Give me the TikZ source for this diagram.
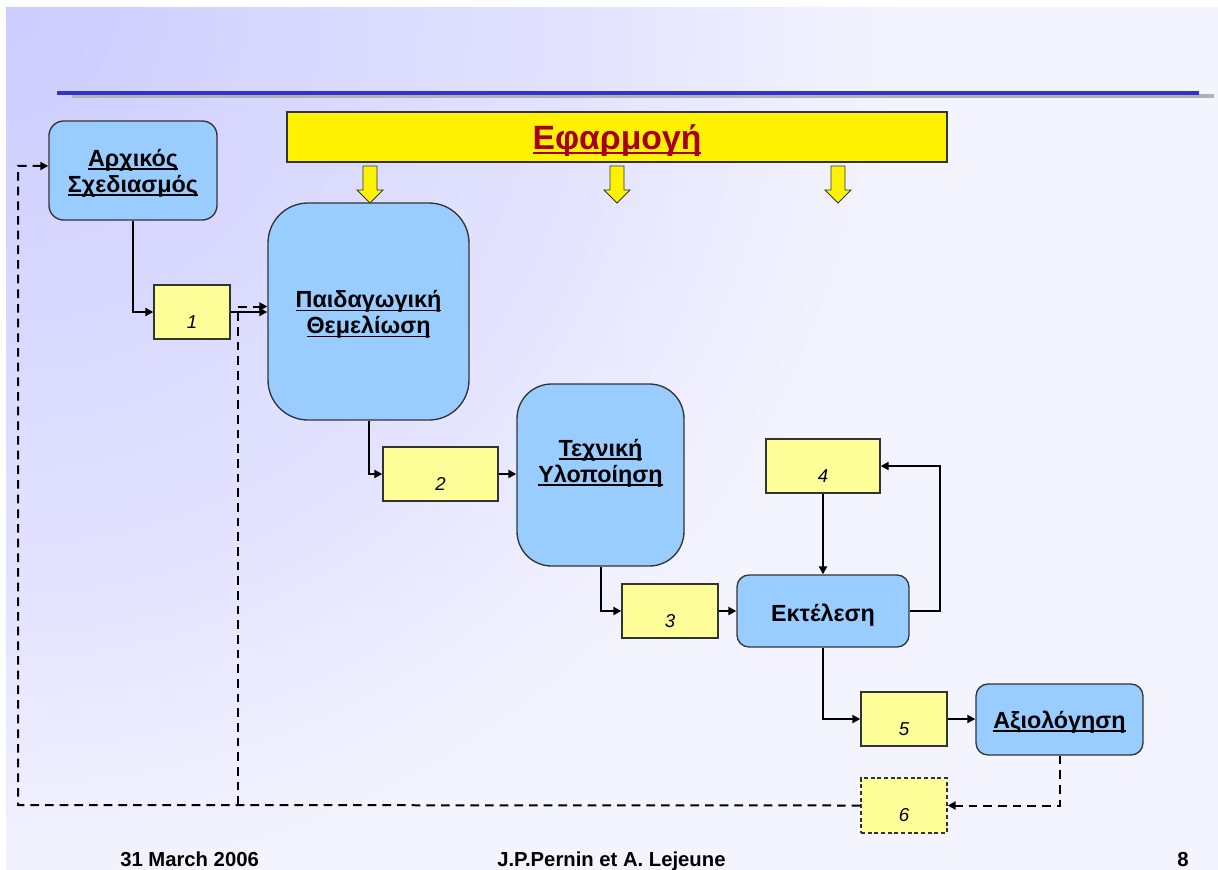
\documentclass[tikz,border=0pt]{standalone}
\usepackage{fontspec}
\setmainfont{Liberation Sans}
\usetikzlibrary{arrows.meta}
\definecolor{bgA}{HTML}{CCCCFF}
\definecolor{bgB}{HTML}{E4E4FF}
\definecolor{bgC}{HTML}{F4F4FE}
\definecolor{boxblue}{HTML}{99CCFF}
\definecolor{boxyellow}{HTML}{FFFF99}
\definecolor{bordergray}{HTML}{333333}
\definecolor{titlered}{HTML}{A50021}
\definecolor{linesblue}{HTML}{3333CC}
\definecolor{shadowgray}{HTML}{B2B2B2}
\pgfdeclareradialshading{bgshade}{\pgfpoint{0bp}{0bp}}{color(0bp)=(bgA); color(9.4bp)=(bgB); color(14bp)=(bgC); color(50bp)=(bgC)}
\newcommand\ulx[1]{\setbox0\hbox{#1}\rlap{\rule[-0.15em]{\wd0}{0.08em}}\box0}
\begin{document}
\begin{tikzpicture}[x=0.75pt,y=-0.75pt,
  sz/.style 2 args={minimum width=#1*0.75pt, minimum height=#2*0.75pt},
  bluebox/.style={draw=bordergray, line width=1pt, fill=boxblue, inner sep=0pt},
  btext/.style={align=center, inner sep=0pt, font=\fontsize{17.5}{19.5}\selectfont\bfseries},
  yelbox/.style={draw=bordergray, line width=1pt, fill=boxyellow, inner sep=0pt},
  numlbl/.style={font=\fontsize{14}{16}\selectfont\itshape, inner sep=0pt},
  conn/.style={line width=1.5pt, -{Triangle[length=6pt,width=6pt]}},
  dconn/.style={line width=1.5pt, dash pattern=on 6.5pt off 4.5pt, -{Triangle[length=6pt,width=6pt]}},
  foot/.style={font=\fontsize{15.2}{17}\selectfont\bfseries, inner sep=0pt, anchor=base west},
  yarrow/.style={draw=bordergray, line width=0.6pt, fill=yellow}
]
\useasboundingbox (0,0) rectangle (1218,869);
\fill[white] (0,0) rectangle (1218,869);
\begin{scope}
  \clip (6,7) rectangle (1218,869);
  \fill[bgC] (6,7) rectangle (1218,869);
  \fill[shading=bgshade] (6,7) circle (1600);
\end{scope}
% header line
\draw[shadowgray, line width=2.4pt] (72,96) -- (1214,96);
\draw[linesblue, line width=2.4pt] (57,93) -- (1199,93);

% title bar
\node[draw=bordergray, line width=0.8pt, fill=yellow, sz={660}{50}, inner sep=0pt,
  label={[inner sep=0pt, yshift=-2.5pt, font=\fontsize{25.3}{28}\selectfont\bfseries, text=titlered]center:\ulx{Εφαρμογή}}] (bar) at (617,137) {};
% yellow arrows
\foreach \ax in {370,617,838}{
  \draw[yarrow] (\ax-7,166) -- (\ax+7,166) -- (\ax+7,190) -- (\ax+13,190) -- (\ax,203)
     -- (\ax-13,190) -- (\ax-7,190) -- cycle;
}

% blue boxes
\node[bluebox, sz={168}{99}, rounded corners=11pt,
  label={[btext, yshift=-2.2pt]center:{\ulx{Αρχικός}\\\ulx{Σχεδιασμός}}}] (arch) at (133,170.5) {};
\node[bluebox, sz={201}{217}, rounded corners=30pt,
  label={[btext, yshift=-2.4pt]center:{\ulx{Παιδαγωγική}\\\ulx{Θεμελίωση}}}] (paid) at (368.5,311.5) {};
\node[bluebox, sz={167}{182}, rounded corners=26pt,
  label={[btext, yshift=8.5pt]center:{\ulx{Τεχνική}\\\ulx{Υλοποίηση}}}] (tech) at (600.5,475) {};
\node[bluebox, sz={172}{72}, rounded corners=9pt,
  label={[btext, yshift=-3pt]center:Εκτέλεση}] (ekt) at (823,611) {};
\node[bluebox, sz={167}{71}, rounded corners=9pt,
  label={[btext, yshift=-2.2pt]center:\ulx{Αξιολόγηση}}] (axi) at (1059.5,719.5) {};

% yellow boxes
\node[yelbox, sz={76}{54}] (b1) at (192,312) {};
\node[yelbox, sz={115}{54}] (b2) at (440.5,474) {};
\node[yelbox, sz={96}{54}] (b3) at (670,611) {};
\node[yelbox, sz={114}{54}] (b4) at (823,466) {};
\node[yelbox, sz={86}{54}] (b5) at (904,719) {};
\node[yelbox, sz={86}{55}, dash pattern=on 3pt off 2pt] (b6) at (904,805.5) {};
\node[numlbl] (l1) at (b1) [yshift=-7.5pt] {1};
\node[numlbl] (l2) at (b2) [yshift=-7.5pt] {2};
\node[numlbl] (l3) at (b3) [yshift=-7.5pt] {3};
\node[numlbl] (l4) at (b4) [yshift=-7.5pt] {4};
\node[numlbl] (l5) at (b5) [yshift=-7.5pt] {5};
\node[numlbl] (l6) at (b6) [yshift=-7.5pt] {6};

% solid connectors
\draw[conn] (arch.south) |- (b1.west);
\draw[conn] (b1.east) -- (b1.east -| paid.west);
\draw[conn] (paid.south) |- (b2.west);
\draw[conn] (b2.east) -- (b2.east -| tech.west);
\draw[conn] (tech.south) |- (b3.west);
\draw[conn] (b3.east) -- (ekt.west);
\draw[conn] (b4.south) -- (ekt.north);
\draw[conn] (ekt.east) -- ++(22.5pt,0) |- (b4.east);
\draw[conn] (ekt.south) |- (b5.west);
\draw[conn] (b5.east) -- (b5.east -| axi.west);

% dashed connectors
\coordinate (dL) at (18,805);
\coordinate (dM) at (238,805);
\draw[dconn] (axi.south) |- (b6.east);
\draw[dconn] (b6.west) -- (dL) |- ([yshift=3.4pt]arch.west);
\draw[dconn] (dM) |- ([yshift=3.75pt]paid.west);

% footer
\node[foot] (f1) at (120,866) {31 March 2006};
\node[foot] (f2) at (497,866) {J.P.Pernin et A. Lejeune};
\node[foot] (f3) at (1177,866) {8};
\end{tikzpicture}
\end{document}
